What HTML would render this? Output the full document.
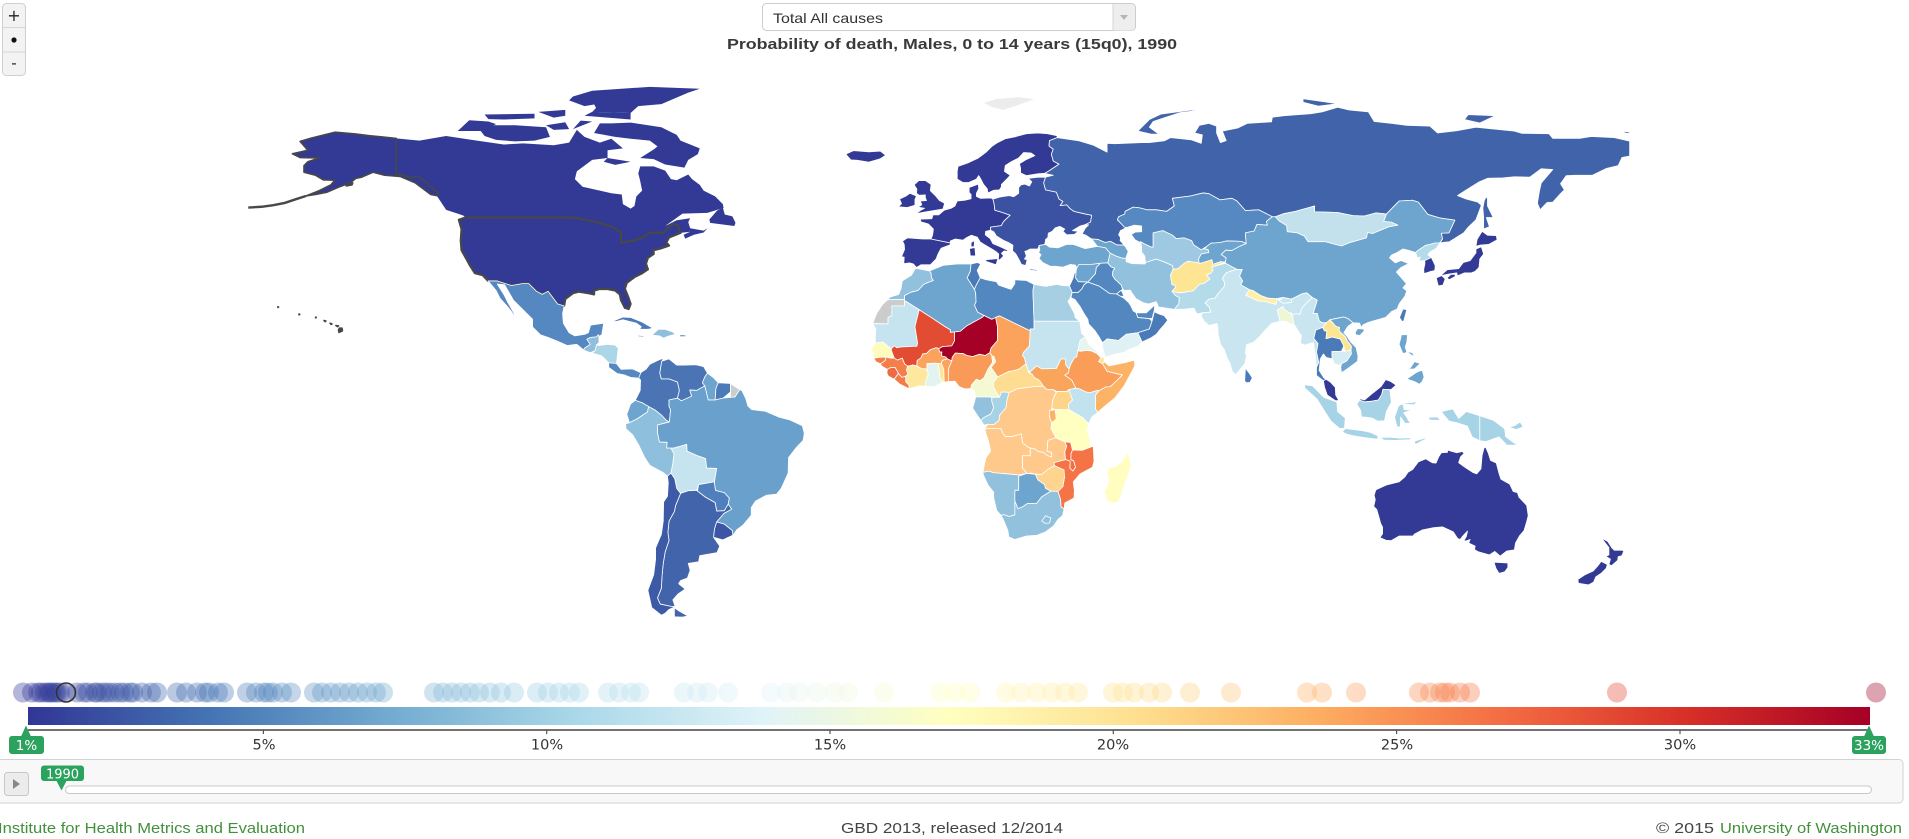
<!DOCTYPE html>
<html><head><meta charset="utf-8"><style>
html,body{margin:0;padding:0;background:#fff;}
svg{display:block;}
.m polygon{stroke:#fff;stroke-width:0.8;vector-effect:non-scaling-stroke;stroke-linejoin:round;}
.m polygon.n{stroke:none;}
.m polygon.us{stroke:#484848;stroke-width:2.2;}
.m polygon.ak{stroke:#484848;stroke-width:1.6;}
.t{font-family:"DejaVu Sans","Liberation Sans",sans-serif;}
.l{font-family:"Liberation Sans","DejaVu Sans",sans-serif;}
</style></head><body>
<svg width="1909" height="839" viewBox="0 0 1909 839" xmlns="http://www.w3.org/2000/svg">
<defs>
<linearGradient id="cb" gradientUnits="userSpaceOnUse" x1="28" y1="0" x2="1870" y2="0">
<stop offset="0" stop-color="#313695"/><stop offset="0.1" stop-color="#4575b4"/><stop offset="0.2" stop-color="#74add1"/><stop offset="0.3" stop-color="#abd9e9"/><stop offset="0.4" stop-color="#e0f3f8"/><stop offset="0.5" stop-color="#ffffbf"/><stop offset="0.6" stop-color="#fee090"/><stop offset="0.7" stop-color="#fdae61"/><stop offset="0.8" stop-color="#f46d43"/><stop offset="0.9" stop-color="#d73027"/><stop offset="1" stop-color="#a50026"/>
</linearGradient>
</defs>
<rect width="1909" height="839" fill="#fff"/>

<!-- zoom buttons -->
<rect x="2.5" y="3.5" width="23" height="72" rx="4" fill="#f3f3f3" stroke="#cfcfcf"/>
<line x1="3" y1="27.5" x2="25" y2="27.5" stroke="#d6d6d6"/>
<line x1="3" y1="52" x2="25" y2="52" stroke="#d6d6d6"/>
<text x="14" y="21" class="t" font-size="16" fill="#222" text-anchor="middle">+</text>
<circle cx="14" cy="40" r="2.6" fill="#111"/>
<text x="14" y="68" class="t" font-size="15" fill="#222" text-anchor="middle">-</text>

<!-- dropdown -->
<rect x="762.5" y="3.5" width="373" height="27" rx="4" fill="#fff" stroke="#cccccc"/>
<path d="M1113,4 H1131 a4,4 0 0 1 4,4 V26.5 a4,4 0 0 1 -4,4 H1113 Z" fill="#eeeeee"/>
<line x1="1113" y1="4" x2="1113" y2="30.5" stroke="#d6d6d6"/>
<polygon points="1120,15 1128,15 1124,20" fill="#b5b5b5"/>
<text x="773" y="23" class="l" font-size="14" fill="#333" textLength="110" lengthAdjust="spacingAndGlyphs">Total All causes</text>

<!-- title -->
<text x="727" y="49" class="l" font-size="15" font-weight="bold" fill="#3a3a3a" textLength="450" lengthAdjust="spacingAndGlyphs">Probability of death, Males, 0 to 14 years (15q0), 1990</text>

<!-- MAP -->
<g class="m" transform="translate(938,405.8) scale(3.8425,-3.8425)">
<!-- Svalbard -->
<polygon class="n" fill="#ececec" points="12,78.8 15,79.8 21,80.3 25,79.8 21,78.3 17,77 14,77.8"/>
<!-- Canada -->
<polygon class="n" fill="#323a96" points="-141,69.6 -135,69 -128,70.2 -120,69 -113,68 -108,68.3 -100,67.8 -96,68.5 -94,71.8 -92,70 -88,68.5 -85,69.5 -82,67 -86,66.5 -86,64.5 -90,64 -94,61 -94.5,59 -92.5,57 -88,56 -85,55.3 -82.3,55 -82,52.5 -80,51.3 -79,52 -78.5,54.5 -77,56 -77.5,58.5 -78,60.5 -77.5,62.3 -74,62.3 -71,61.2 -69.5,59 -68,58.7 -65,60.2 -64,59 -62,57.5 -61,56 -58,54.5 -56,52.5 -55.8,51.5 -60,50.2 -66.5,50 -71,46.8 -68,48.3 -64.5,48.8 -65,47.8 -64.5,46.2 -61,45.6 -60,46.2 -61,45.1 -63.5,44.5 -65.8,43.5 -66.2,44.5 -64.5,45.3 -67,45 -67.8,47 -69.2,47.4 -70,46.5 -71.5,45 -75,45 -76.5,44 -79,43 -82.5,42.5 -82.5,45 -84.5,46.5 -89.5,48 -95,49 -123,49 -123.5,49.5 -125,50 -128,51 -130,54 -130.5,54.7 -130,55.5 -131.5,56.5 -133.5,58.5 -135.5,59.8 -137,59.3 -139,60 -141,60.3"/>
<polygon class="n" fill="#323a96" points="-80,73.7 -72,72.5 -68,70.5 -67,69 -62,67 -62.5,65.5 -65,64 -66,62 -71,62.8 -74,64.2 -77.5,64.5 -74,66.7 -73,67.5 -75,69 -80,69.5 -84,70 -89.5,71 -88,73.5 -85,73.5"/>
<polygon class="n" fill="#323a96" points="-119,71.5 -117,73 -110,73 -102,72.5 -101,70 -105,69 -110,68.8 -115,69.2 -118,70.2"/>
<polygon class="n" fill="#323a96" points="-90,76.5 -80,76.2 -78,78 -72,78.5 -65,81.5 -62,82.5 -75,83 -90,82 -95,80.5 -90,79.5 -89,77.5"/>
<polygon class="n" fill="#323a96" points="-92,75.5 -80,74.5 -80,76.2 -90,76.5"/>
<polygon class="n" fill="#323a96" points="-125,71.5 -122,74.3 -117,74 -115,73.3 -119,71.5"/>
<polygon class="n" fill="#323a96" points="-118,75.8 -105,76 -105,74.8 -113,74.5 -117,74.6"/>
<polygon class="n" fill="#323a96" points="-102,73 -97,73.8 -96,72 -100,71.8"/>
<polygon class="n" fill="#323a96" points="-86,64.5 -80,63.5 -84,62.7 -87,63.5"/>
<polygon class="n" fill="#323a96" points="-95,80.5 -86,81 -86,79 -92,78 -96,79.5"/>
<polygon class="n" fill="#323a96" points="-95,72 -90,74 -93,74.2"/>
<polygon class="n" fill="#323a96" points="-104,76.5 -97,77 -97,75.5 -100,75"/>
<polygon class="n" fill="#323a96" points="-59.3,47.6 -53,46.8 -52.7,47.6 -53.5,49.3 -55.5,49.8 -56,51.6 -57.5,50.8 -59.5,48.5"/>
<!-- Alaska -->
<polygon class="ak" fill="#323a96" points="-141,69.6 -141,60.3 -139,60 -137,59.3 -135.5,59.8 -133.5,58.5 -131.5,56.5 -130,55.5 -130.5,54.7 -132,55 -134,56.5 -136,58 -140,59.7 -144,60 -147,60.8 -150,59.5 -151.5,59.2 -153,58 -156,56.9 -159,55.6 -162,55 -164.5,54.6 -161,56 -158,57.5 -157,58.7 -160,58.8 -162,60 -165,60.8 -165,62.5 -164,63.5 -161,64.5 -166,64.6 -168,65.6 -164,66.5 -166,68.8 -163,69.7 -157,71.2 -152,70.8 -148,70.3"/>
<polygon class="ak" fill="#323a96" points="-154,57.2 -152.5,57.5 -152.3,58 -153.8,57.9"/>
<polyline points="-164.5,54.6 -167,53.8 -170,52.8 -173,52.2 -176,51.8 -179.5,51.6" fill="none" stroke="#484848" stroke-width="2.4" vector-effect="non-scaling-stroke"/>
<!-- Hawaii -->
<polygon class="ak" fill="#484848" points="-155.9,19.1 -155,19.5 -155.1,20.2 -155.8,20.2 -156,19.7"/>
<polygon class="ak" fill="#484848" points="-156.7,20.9 -156,20.8 -156.3,20.6"/>
<polygon class="ak" fill="#484848" points="-158.2,21.5 -157.7,21.3 -158,21.2"/>
<polygon class="ak" fill="#484848" points="-159.8,22.2 -159.3,22.1 -159.5,21.9"/>
<polygon class="ak" fill="#484848" points="-161.9,23.1 -161.8,23 -162,22.9"/>
<polygon class="ak" fill="#484848" points="-166.3,23.9 -166.1,23.8 -166.3,23.7"/>
<polygon class="ak" fill="#484848" points="-171.8,25.8 -171.6,25.7 -171.8,25.6"/>
<!-- USA -->
<polygon class="us" fill="#323a96" points="-123,49 -95,49 -89.5,48 -84.5,46.5 -82.5,45 -82.5,42.5 -79,43 -76.5,44 -75,45 -71.5,45 -70,46.5 -69.2,47.4 -67.8,47 -67,45 -70,43.8 -70.7,42.5 -70,41.7 -72,41 -74,40.5 -74,39.5 -75.5,38.5 -76,37 -75.5,35.5 -77,34.5 -79,33.5 -81,32 -81.5,30.5 -80.5,28 -80,26.5 -80.5,25.2 -81.5,25.5 -82.5,27.5 -82.8,29 -84,30 -86,30.4 -88,30.4 -89.5,30 -89.5,29 -91,29.3 -93.5,29.7 -95,29.3 -97,27.8 -97.3,26 -99,26.5 -100.5,28.5 -101.5,29.8 -103,29 -104.5,29.8 -106.5,31.8 -108.2,31.8 -111,31.3 -114.8,32.5 -117.1,32.5 -118.5,34 -120.5,34.5 -121.8,36.5 -122.5,37.8 -124,40.5 -124.2,43 -124,46 -124.7,48.4"/>
<!-- Mexico & Central America & Caribbean -->
<polygon fill="#5587c1" points="-117.1,32.5 -114.8,32.5 -111,31.3 -108.2,31.8 -106.5,31.8 -104.5,29.8 -103,29 -101.5,29.8 -100.5,28.5 -99,26.5 -97.3,26 -97.7,24 -97.5,21.5 -96,19 -94.5,18.2 -92,18.6 -91,19 -90.4,21 -87,21.5 -87.5,18.5 -88.3,18 -89.1,17.9 -90.4,17.8 -91.4,17.3 -90.5,16 -92,15 -92.2,14.5 -94,16 -96.5,15.7 -99,16.8 -101.5,17.8 -103.5,18.5 -105.5,20.5 -105.5,22.5 -107,24 -109,26 -110.5,27.5 -112.8,31.5 -114.7,31.7 -113,29 -112,27 -110.3,24 -110,23 -111,24.5 -112.2,26 -114,28 -115,30 -116.5,31.8"/>
<polygon fill="#8fbfdc" points="-92.2,14.5 -92,15 -90.5,16 -91.4,17.3 -90.4,17.8 -89.1,17.9 -88.3,18.5 -88.2,16.5 -88.9,15.8 -89.2,14.4 -90.5,13.8"/>
<polygon fill="#abd6e8" points="-88.9,15.8 -88.2,15.7 -86,16 -84,15.8 -83.2,15 -83.5,12.5 -83.7,11 -85.7,11.2 -87.5,13 -89.3,13.5 -90.1,13.7 -89.2,14.4"/>
<polygon fill="#5587c1" points="-83.7,11 -82.5,9.5 -79.5,9.6 -77.5,8.7 -77.2,7.9 -78,7.2 -80,7.4 -81.5,8 -83.5,8.4 -85.7,10 -85.7,11.2"/>
<polygon fill="#4a7bb8" points="-84.9,21.9 -82,23.1 -80,23 -77,21.8 -75.6,21 -74.2,20.2 -75.5,19.9 -77.7,19.9 -77.2,20.6 -78.5,21.5 -80.5,22 -82,22.4 -83.5,22 -85,21.8"/>
<polygon fill="#8fbfdc" points="-74.4,18.4 -72.8,19.9 -71,19.9 -69,19.2 -68.4,18.6 -70,18.2 -71.4,17.6 -72.5,18.2"/>
<polygon fill="#6ea5cf" points="-78.3,18.4 -76.3,18.2 -76.8,17.9 -77.9,18"/>
<polygon fill="#4a7bb8" points="-67.2,18.5 -65.6,18.4 -65.7,18 -67.2,18"/>
<!-- South America -->
<polygon fill="#4a74b4" points="-77.3,8.7 -76,9.5 -75,10.8 -73,11.8 -71.5,12.4 -72,11 -72.4,8.5 -72,7 -70,7 -67.8,6.2 -67.3,4 -67.8,2 -70,1.5 -70,-0.2 -69.6,-1 -69.9,-4.2 -70.7,-3.8 -72,-2.4 -73.5,-1.2 -75.3,-0.2 -77,0.8 -78.8,1.4 -77.5,4 -77.4,6.7 -77.9,7.2"/>
<polygon fill="#4a74b4" points="-72,11 -71.9,11.6 -70,12.2 -68,10.6 -66,10.6 -63,10.7 -61,10.2 -60,8.5 -60.7,7.5 -61.3,6 -60.7,5.2 -62.8,4 -64.6,4.1 -64.1,2.5 -66.8,1.3 -67.8,2 -67.3,4 -67.8,6.2 -70,7 -72,7 -72.4,8.5"/>
<polygon fill="#6ea5cf" points="-60,8.5 -58.5,7.4 -57.2,6 -57.8,4.5 -58,1.5 -59.8,1.5 -60.7,5.2 -61.3,6 -60.7,7.5"/>
<polygon fill="#4a7bb8" points="-57.2,6 -54,5.8 -54,3.6 -55.9,2 -58,1.5 -57.8,4.5"/>
<polygon fill="#cccccc" points="-54,5.8 -51.6,4.2 -52.8,2.3 -54,2.2 -54,3.6"/>
<polygon fill="#6ea5cf" points="-78.8,1.4 -77,0.8 -75.3,-0.2 -75.6,-1.6 -78.3,-3.4 -80.3,-4.4 -81,-2.2 -80,0.5"/>
<polygon fill="#8ebfdc" points="-81.3,-4.7 -80.3,-4.4 -78.3,-3.4 -75.6,-1.6 -75.3,-0.2 -73.5,-1.2 -72,-2.4 -70.7,-3.8 -69.9,-4.2 -73,-5 -73,-7 -72.5,-9.4 -70.5,-9.5 -70.6,-11 -69.5,-11 -68.7,-12.5 -69,-15 -69.5,-17.5 -70.4,-18.3 -71.5,-17.4 -75,-15.5 -76.3,-13.5 -78,-10 -79.5,-7.5 -81.2,-6"/>
<polygon fill="#c6e4ef" points="-69.5,-11 -68.7,-12.5 -69,-15 -69.5,-17.5 -68.5,-19 -68,-21.5 -67,-22.8 -65,-22.1 -62.8,-22 -62.3,-20.5 -58.2,-19.8 -57.6,-16.3 -60.2,-16.2 -60.5,-13.7 -62.8,-12.9 -65.3,-11.8 -65.4,-10 -67,-10.5 -68.8,-11"/>
<polygon fill="#4f7fbd" points="-62.3,-20.5 -62.6,-22.2 -60.5,-23.8 -58,-25.2 -57.6,-27.4 -55.6,-27.3 -54.6,-25.6 -54.3,-24 -55.6,-22.6 -57.9,-22 -58.2,-19.8"/>
<polygon fill="#6aa0cc" points="-60.7,5.2 -59.8,1.5 -58,1.5 -56,2 -54,2.2 -52.8,2.3 -51.6,4.2 -51,3.9 -50,1.8 -49.5,0 -48.5,-1 -45,-1.4 -41.5,-2.9 -38.5,-3.7 -35.3,-5.2 -34.8,-7.2 -35.1,-9 -37,-11 -38.9,-13.5 -39,-17.5 -40.8,-21.5 -42,-23 -44.7,-23.3 -47.5,-24.8 -48.6,-26.5 -48.6,-28.5 -50.7,-31 -52.3,-32.2 -53.4,-33.7 -53.5,-32.5 -55.6,-30.8 -57.6,-30.2 -55.7,-28 -53.7,-26.9 -54.6,-25.6 -54.3,-24 -55.6,-22.6 -57.9,-22 -58.2,-19.8 -57.6,-16.3 -60.2,-16.2 -60.5,-13.7 -62.8,-12.9 -65.3,-11.8 -65.4,-10 -67,-10.5 -68.8,-11 -70.6,-11 -70.5,-9.5 -72.5,-9.4 -73,-7 -73,-5 -69.9,-4.2 -69.6,-1 -70,-0.2 -70,1.5 -67.8,2 -66.8,1.3 -64.1,2.5 -64.6,4.1 -62.8,4"/>
<polygon fill="#3c55a5" points="-58.4,-34.2 -56,-34.9 -53.4,-33.7 -53.5,-32.5 -55.6,-30.8 -57.6,-30.2 -58.1,-31.8 -58.3,-33"/>
<polygon fill="#4264ab" points="-65,-22.1 -67,-22.8 -68.3,-26 -68.6,-27.5 -70,-30 -70.3,-33 -70,-35 -71,-38 -71.5,-41 -71.8,-44 -72,-47.5 -73,-50 -72.3,-51.6 -69.5,-52.2 -68.4,-52.3 -69,-50.5 -67.7,-49 -65.8,-47.7 -67.5,-46.3 -67,-45.5 -65.2,-44.8 -64.5,-42.8 -65,-41 -62.3,-40.6 -62,-39 -57.5,-38.2 -56.8,-36.5 -57.5,-35.5 -58.4,-34.2 -58.3,-33 -58.1,-31.8 -57.6,-30.2 -55.7,-28 -53.7,-26.9 -54.6,-25.6 -55.6,-27.3 -57.6,-27.4 -58,-25.2 -60.5,-23.8 -62.6,-22.2 -62.8,-22"/>
<polygon fill="#4264ab" points="-68.6,-52.6 -68.6,-54.9 -66.5,-55 -65.1,-54.7 -67.2,-53.5"/>
<polygon fill="#3d5aa6" points="-70.4,-18.3 -69.5,-17.5 -68.5,-19 -68,-21.5 -67,-22.8 -68.3,-26 -68.6,-27.5 -70,-30 -70.3,-33 -70,-35 -71,-38 -71.5,-41 -71.8,-44 -72,-47.5 -73,-50 -72.3,-51.6 -69.5,-52.2 -68.4,-52.3 -70,-53 -71,-54 -72,-54.5 -74.5,-52.5 -75.5,-48 -74,-44 -73.5,-40 -73.5,-37 -72,-33.5 -71.5,-30 -71.4,-25 -70.4,-23.5 -70.2,-20"/>
<!-- Europe -->
<polygon fill="#323a96" points="-24,65.5 -22,66.4 -18,66.1 -15,66.3 -13.6,65.2 -15,64.3 -18,63.4 -21,63.9 -22.7,64"/>
<polygon fill="#323a96" points="-5.7,50 -3,50.5 1.3,51.2 1.7,52.7 0.3,53.5 -0.5,54.5 -1.6,55.6 -2,56 -1.8,57.6 -3.2,58.6 -5,58.6 -6.2,57.5 -5.5,56.4 -5.6,55.3 -4.9,54.8 -3.3,54.9 -3.3,54.2 -3,53.4 -4.6,53.3 -4.2,52.3 -5.2,51.7 -3.5,51.4 -4.5,50.9"/>
<polygon fill="#323a96" points="-6,52.2 -6,53.7 -5.6,54.6 -7.3,55.3 -8.5,54.5 -10,53.8 -9.5,52.6 -10.3,51.8 -8,51.6"/>
<polygon fill="#323a96" points="-9,43 -8,43.7 -4,43.4 -1.8,43.4 3.2,42.4 3.2,41.9 0.8,41 0,39.5 -0.5,38.2 -2,36.7 -4.4,36.7 -5.6,36 -6.4,36.9 -7.4,37.2 -8.9,37 -8.8,38.7 -9.5,38.8 -8.7,40.7 -8.8,42 -9.3,43"/>
<polygon fill="#323a96" points="-1.8,43.4 -1.4,44.5 -1.2,46 -2.5,47.3 -4.5,47.9 -4.6,48.6 -1.6,48.7 -1.3,49.7 0.2,49.7 1.6,50.9 3.4,51.4 4.4,52 5,53.3 7,53.5 8.6,53.9 8.6,55 8.1,55.5 8.1,56.8 10.5,57.7 10.6,56.5 10,55.3 10,54.5 11,54 13.8,54.1 14.3,53.8 14.6,52.6 14.8,50.9 16.5,50.4 18.8,49.6 17.2,48.1 16.9,47.7 16.5,46.9 13.7,46.5 13.7,45.7 12.4,45.4 12.3,44.5 13.6,43.5 14.3,42.2 16,41.5 17.9,40.6 18.5,40.1 17.2,40.3 16.5,39.7 17.1,39 16.1,38 15.7,38 15.8,39.5 15,40.2 14,40.8 12.5,41.7 11,42.6 10.2,43.9 8.7,44.4 7.5,43.8 6.5,43.1 4.5,43.4 3.2,42.9 3.2,42.4"/>
<polygon fill="#323a96" points="12.4,38 15.6,38.3 15.1,36.7 12.5,37.6"/>
<polygon fill="#323a96" points="8.4,39 9.8,39 9.6,41.2 8.2,40.9"/>
<polygon fill="#323a96" points="8.6,41.4 9.4,41.4 9.5,43 8.6,42.5"/>
<polygon fill="#323a96" points="5,59 5,61 5.2,62.3 8,63.3 10.5,64.5 12.5,66 14,67.5 15.5,68.5 17.5,69.5 20,70 23,70.8 26,71 28.5,70.8 31,70.3 31,69.8 29,69 28.9,67.6 30,66.8 29.5,65.5 30,63.7 31.5,62.9 29,61.2 27.8,60.5 26,60.4 23,59.9 21.5,60.6 21.5,61.8 21.2,63 22.8,64 25.2,65.1 24.2,65.8 22.3,65.9 21,64.5 19,63.5 17.5,62.5 17.3,61 18.8,60 18.2,59.3 16.5,57.6 16.5,57 16,56.2 14.5,56.1 13,55.4 12.8,56.5 11.8,57.7 11.2,58.9 10.6,59.9 10,59 8,58.1 6.5,58.1 5.5,58.7"/>
<polygon fill="#3b52a2" points="14.3,53.8 16,54.3 18.5,54.7 19.7,54.4 21,55.3 21,56.8 21.6,57.5 22.6,57.7 23.8,57.2 24.4,58.3 23.5,59.2 26,59.5 28,59.5 27.5,58 28,56.2 30.8,55.6 31.5,53.8 32.5,53.2 31.8,52.1 33.5,52.3 34.4,51.3 35.4,50.6 38,50 40,49.6 39.7,47.8 38.2,47.1 37,46.8 35,45.6 36.5,45.4 35.5,44.6 33.5,44.5 32.5,45.4 33,46 31.7,46.7 30.5,46.3 29.7,45.4 28.7,44.9 28.6,43.8 28,43.3 27.8,42 26.3,41.7 26,40.8 24,40.8 23,40.3 22.6,40.2 23,39 22.5,38.2 23.2,38 22.8,36.5 21.7,36.8 21,38.2 20.2,39.6 19.4,40.3 19.5,41.8 18.5,42.4 17,43.1 15.2,44.2 14.5,45.3 13.7,45.7 13.7,46.5 16.5,46.9 16.9,47.7 17.2,48.1 18.8,49.6 16.5,50.4 14.8,50.9 14.6,52.6"/>
<polygon fill="#3b52a2" points="23.5,35.3 26.2,35.1 25.8,35.4 24,35.6"/>
<!-- Russia -->
<polygon fill="#4063aa" points="31,69.8 36.5,69 40.5,67.8 44,66 44,68.3 46,68.2 53,68.5 55,68.5 59,69 60.5,69.8 66,69.2 68.5,68.3 68.8,70.5 66.8,71 68,73 70.5,73.5 72.5,72.8 72.5,71 73.5,68.5 75,69 74,71.5 78,72.3 80.5,73.5 86.8,73.9 87,75.1 90,75.5 97,76 100,76.5 104,77.7 107,77 112,76.5 113.5,74 118,73.5 122,73 128,72.8 130,71 135,71.6 140,72.5 150,71.5 152,70.9 159,70.8 160,69.6 167,69.6 170,70.1 176,69.8 180,68.9 180,65 178,64.6 177,62.5 174,61.8 170.3,60 166,60 163.5,59.9 162,57.8 163,56.2 161.8,55 160,53 158.5,52.9 156.7,51 156,52.7 156.5,55.8 157,58 160,61.5 157,61.7 154,59.5 150,59.6 147,59.3 143,59.2 140.7,58.2 137.2,56 135.2,54.7 137.2,53.9 140.5,53 141.4,52.2 140.6,50 140,48.4 138,46.5 136.8,45 133.1,42.7 131.2,42.5 130.6,42.4 131.3,43.4 131,44.9 133,45 134.5,48.3 130.5,48.9 127.5,49.8 125,53 123.5,53.5 120,53.3 116.7,49.9 114,50.2 111,49.4 108,49.5 104,50.3 98,50.5 98,52 93,50.6 90,50 87.8,49.2 87,49.2 83.5,51 80,50.8 77.8,53.3 76.5,54 73.4,53.6 70.5,55.2 69,55.4 65.7,54.6 61,54 61.5,52 59.5,50.6 56.8,51 54.5,51 52.5,51.5 50.8,51.7 48.7,50.6 48.6,49.9 47,49.2 46.7,48.4 47.6,47.5 48.5,46.5 49.1,46.4 47.5,45.6 47,44.5 47.5,43.8 47.4,43 48.5,41.8 46.5,41.9 44.9,42.8 43.5,42.5 41.6,43.3 40,43.4 38.5,44.4 37.5,44.7 38.3,46.2 39.2,47.1 38.2,47.1 39.7,47.8 40,49.6 38,50 35.4,50.6 34.4,51.3 33.5,52.3 31.8,52.1 32.5,53.2 31.5,53.8 30.8,55.6 28,56.2 27.5,58 28,59.5 30,60 27.8,60.5 29,61.2 31.5,62.9 30,63.7 29.5,65.5 30,66.8 28.9,67.6 29,69"/>
<polygon fill="#4063aa" points="52,71.5 55.5,70.7 57.5,70.7 55,72.5 56,74 59,75 63,76.3 68,76.9 66,77 58,75.9 55,74.5 53.5,73"/>
<polygon fill="#4063aa" points="95,79.9 100,79.2 104,78.6 99,78 95,79"/>
<polygon fill="#4063aa" points="138,75.8 145,75.5 141,73.6 137,74.5"/>
<polygon fill="#4063aa" points="178,71.5 180,71.2 180,70.9 179,70.9"/>
<polygon fill="#4063aa" points="142,46 143.5,46.6 142.7,49 144.5,49 143,52 143,54 142.7,54.4 142.2,53.5 141.8,51.5 142,49"/>
<!-- Caucasus, Turkey, Middle East -->
<polygon fill="#6ea5cf" points="40,43.4 41.6,43.3 43.5,42.5 44.9,42.8 46.5,41.9 48.5,41.8 49.5,40.2 48.9,38.4 48,38.4 46.5,38.9 44.8,39.7 43.6,41.1 41.5,41.5"/>
<polygon fill="#6ea5cf" points="26.3,41.7 28,42 29,41.3 31.2,41.1 33.5,42 35.2,42 38.3,40.9 41.5,41.5 43.6,41.1 44.8,39.7 44.2,37.2 42.3,37.1 40,36.8 38,36.8 36.7,36.8 36.1,35.8 35.8,36.6 34.5,36.8 32.5,36.1 30.5,36.3 29.3,36.3 27.4,37.2 26.3,38.3 26.8,39.3 26.2,39.9 26.5,40.6"/>
<polygon fill="#6ea5cf" points="35.9,35 36.1,35.8 36.7,36.8 38,36.8 40,36.8 42.3,37.1 41.2,36 41,34.4 39,32.2 36.5,32.3 35.8,33.3"/>
<polygon fill="#4a7bb8" points="34.2,31.2 34.9,29.5 36.5,29.5 37.5,30.5 38,31.5 39,32.2 36.5,32.3 35.8,33.3 35.9,35 35.5,34.5 35.1,33.1 34.5,31.8"/>
<polygon fill="#5387c0" points="42.3,37.1 44.2,37.2 45,36.2 46,35.8 45.5,35 45.4,34 46,33 47.7,31.4 48,30.5 48,29.9 47.7,30.1 46.5,29.1 44.7,29.2 42,31.1 39,32.2 41,34.4 41.2,36"/>
<polygon fill="#4a7bb8" points="46.5,29.1 47.7,30.1 48.4,28.5 47.5,28.5"/>
<polygon fill="#5387c0" points="34.9,29.5 36.5,29.5 37.5,30.5 38,31.5 39,32.2 42,31.1 44.7,29.2 46.5,29.1 47.5,28.5 48.4,28 49.6,26.9 50.2,26 50.8,24.7 51.6,24.2 52,23 55,22.7 55.7,22 55,20 52,19 49,18.6 47,17 44,17.4 43.2,16.7 42.8,16.4 42,17.8 40.8,19.6 39.2,21.3 39,22.5 38,24 37,25.8 35.6,27.7 34.6,28.1"/>
<polygon fill="#5387c0" points="51.6,24.2 54.2,24.2 55.5,25.4 56.4,26.2 56.3,24.9 55.7,22.7 55,22.7 52,23"/>
<polygon fill="#4a7bb8" points="55.7,22 56.3,24.5 56.8,24.2 57.8,23.8 58.8,23.5 59.8,22.3 58.9,21.1 57.8,19.9 56.8,18.6 55.3,17.6 53.1,16.6 52,19 55,20"/>
<polygon fill="#dff1f4" points="43.2,16.7 44,17.4 47,17 49,18.6 52,19 53.1,16.6 52.2,15.6 49.5,14.6 48.7,14 45.6,13.3 43.5,12.6 42.8,15.3 42.8,16.4"/>
<polygon fill="#91c1dd" points="44.2,37.2 44.8,39.7 46.5,38.9 48,38.4 48.9,38.4 49,37.5 50.5,37 53.9,36.9 54,37.3 56.8,38.2 59,37.4 61,36.5 61.2,35.6 60.5,34 60.9,31.5 61.7,31.4 61.8,30.8 60.9,29.8 61.8,28.7 62.8,28.2 62.7,26.6 61.5,25.1 59.5,25.4 57.4,25.7 56.8,27.1 54.8,26.5 53.5,26.8 51.5,27.9 50,30.1 48.5,30 48,30.5 47.7,31.4 46,33 45.4,34 45.5,35 46,35.8 45,36.2"/>
<!-- Central Asia -->
<polygon fill="#5689c1" points="46.7,48.4 47,49.2 48.6,49.9 48.7,50.6 50.8,51.7 52.5,51.5 54.5,51 56.8,51 59.5,50.6 61.5,52 61,54 65.7,54.6 69,55.4 70.5,55.2 73.4,53.6 76.5,54 77.8,53.3 80,50.8 83.5,51 87,49.2 85.5,48 85.7,47 83,47.2 82.3,45.5 80,45 80.2,42.2 79,42.8 75,42.9 73.5,42.5 71,42.3 70,41.5 68.5,40.6 66.5,41.9 66,43 64,43.7 62,43.5 61,44.4 58.5,45.6 56,45 56,41.3 55.5,41.3 54,42 52.7,42.7 53,42.3 51.3,43.2 50.3,44.6 51.3,45.2 53,45.3 53,46.8 51,47 49.1,46.4 48.5,46.5 47.6,47.5"/>
<polygon fill="#9fc9e2" points="52.7,42.7 54,42 55.5,41.3 56,41.3 56,45 58.5,45.6 61,44.4 62,43.5 64,43.7 66,43 66.5,41.9 68.5,40.6 70,41.5 69.3,40.8 70.3,40.7 70.5,39.9 68.5,39.5 67.8,38.2 68,37 67.5,37.3 66.5,37.4 65,37.6 64,37 62.3,35.6 61.2,35.6 61,36.5 59,37.4 56.8,38.2 54,37.3 53.8,39 53,40 53,41.5"/>
<polygon fill="#6ea5cf" points="70,41.5 71,42.3 73.5,42.5 75,42.9 79,42.8 80.2,42.2 78.5,41.5 76.5,40.4 74.9,40.5 73.7,39.4 75,38.5 74.8,37.4 73.5,37.5 71.5,36.8 71.3,38 70,37.6 68,37 67.8,38.2 68.5,39.5 70.5,39.9 70.3,40.7 69.3,40.8"/>
<polygon fill="#fee594" points="61.2,35.6 62.3,35.6 64,37 65,37.6 66.5,37.4 67.5,37.3 68,37 70,37.6 71.3,38 71.5,36.8 73.5,37.5 74.8,37.4 71.2,36.1 71.6,35.3 71,34.5 69.9,34 70.8,33 69.3,31.9 68,31.6 66.5,30 66.3,29.9 64,29.5 62.5,29.4 60.9,29.8 61.8,30.8 61.7,31.4 60.9,31.5 60.5,34"/>
<polygon fill="#b3dbea" points="60.9,29.8 62.5,29.4 64,29.5 66.3,29.9 66.5,30 68,31.6 69.3,31.9 70.8,33 69.9,34 71,34.5 71.6,35.3 71.2,36.1 74.8,37.1 75.8,36.6 77.8,35.5 76,35 75,34.6 74,33.2 74.6,32 74.5,31 73.5,29.9 72,28 70.6,27.8 69.5,26.8 70.6,25.7 71,24.4 68.8,24.2 67.4,23.9 66.6,25.4 64.5,25.2 61.5,25.1 62.7,26.6 62.8,28.2 61.8,28.7"/>
<polygon fill="#c9e6f0" points="77.8,35.5 79.2,35.5 78.5,33.8 79.3,32.5 78.8,31.5 81.1,30.2 80.1,28.8 83.3,27.3 84.7,27.2 88,26.4 88.1,27.9 88.9,27.3 89.8,26.7 92,26.9 92,27.8 94.8,29.2 96,29.4 97.4,28.2 96.6,27.4 95.2,26 94.6,25.2 94.2,23.8 93.3,24 93,22 92.6,21.3 92.2,23.7 91.9,24.2 91.5,24.1 90,25.2 89.8,25.9 88.3,24.9 88.6,23.8 89,22 88,21.7 86.9,21.5 85,19.5 83.9,18.2 82.2,16.6 80.3,15.9 80,13.8 80.3,13 79.9,11.1 79.3,10.3 77.5,8.1 76.6,8.9 76,11 75.3,12.3 74.5,14.6 73.5,16 72.9,18.6 72.8,20.5 72.6,21.4 70.5,20.9 69.2,22.1 68.5,23.3 68.8,24.2 71,24.4 70.6,25.7 69.5,26.8 70.6,27.8 72,28 73.5,29.9 74.5,31 74.6,32 74,33.2 75,34.6 76,35"/>
<polygon fill="#fff0a8" points="80.1,28.8 81.1,30.2 82,30 84,28.7 86,28 88.1,27.9 88,26.4 84.7,27.2 83.3,27.3"/>
<polygon fill="#c9e6f0" points="88.9,27.3 89.8,28.2 92,27.8 92,26.9 89.8,26.7"/>
<polygon fill="#eef6d6" points="88.3,24.9 89.8,25.9 90,25.2 91.5,24.1 91.9,24.2 92.2,23.7 92.6,21.3 92,21.2 90.5,22 89,22 88.6,23.8"/>
<polygon fill="#4a7bb8" points="79.8,6.5 80,9.8 81,8.5 81.8,7.3 81.2,6.1 80.2,6"/>
<!-- East Asia -->
<polygon fill="#c2e1ed" points="87.8,49.2 90,50 93,50.6 98,52 98,50.5 104,50.3 108,49.5 111,49.4 114,50.2 116.7,49.9 116,48 118,47.8 119.7,47 117.4,46.6 113,44.8 111.8,45.1 111.5,43.7 107,42.4 105,41.6 100.8,42.7 96.3,42.7 95.3,44.2 93.5,45 90.9,45.3 90.7,46.9 88.8,48.1"/>
<polygon fill="#6ea5cf" points="73.7,39.4 74.9,40.5 76.5,40.4 78.5,41.5 80.2,42.2 80,45 82.3,45.5 83,47.2 85.7,47 85.5,48 87,49.2 87.8,49.2 88.8,48.1 90.7,46.9 90.9,45.3 93.5,45 95.3,44.2 96.3,42.7 100.8,42.7 105,41.6 107,42.4 111.5,43.7 111.8,45.1 113,44.8 117.4,46.6 119.7,47 118,47.8 116,48 116.7,49.9 120,53.3 123.5,53.5 125,53 127.5,49.8 130.5,48.9 134.5,48.3 133,45 131,44.9 131.3,43.4 130.6,42.4 129.5,42.4 128,42 126.8,41.7 125,40.5 124.3,39.9 122.3,40.5 121,40.8 119.5,39.9 118,39.2 117.5,38.5 119,37.2 120.5,37.8 122.5,37 120.5,36 119.3,34.8 120.6,33.3 121.9,31.8 121,30.7 122,29.9 121.5,28.5 120,26.5 119.5,25.2 118,24.5 116.5,23 114,22.3 112,21.7 110.5,21 110.2,20.3 109.7,21.5 108,21.6 106.7,22.7 105.6,23.1 103.5,22.7 102,22.4 101.6,21.2 101.1,21.6 100,21.6 99.2,22.1 98.7,24 97.6,24 98.7,27.5 97.4,28.2 96,29.4 94.8,29.2 92,27.8 89.8,28.2 88.1,27.9 86,28 84,28.7 82,30 81.1,30.2 78.8,31.5 79.3,32.5 78.5,33.8 79.2,35.5 77.8,35.5 75.8,36.6 74.8,37.1 74.8,37.4 75,38.5"/>
<polygon fill="#6ea5cf" points="108.6,19.2 109.2,20.1 110.7,20 111,19.6 109.8,18.3 108.7,18.5"/>
<polygon fill="#4a7bb8" points="120.1,23 121,25.2 122,25 121.2,22 120.7,22"/>
<polygon fill="#b3dbea" points="124.3,39.9 125,40.5 126.8,41.7 128,42 129.5,42.4 130.6,42.4 129.7,41 128,40 127.5,39.3 128.4,38.6 126.7,37.8 125.2,37.7 125.5,38.7 124.7,38.5"/>
<polygon fill="#323a96" points="126.7,37.8 128.4,38.6 129.4,36.5 129.3,35.2 128,34.9 126.5,34.4 126.4,35.5 126.7,36.9"/>
<polygon fill="#323a96" points="130.9,34 132.5,35.4 135.5,35.7 136.7,37.3 138.5,37.8 140,39.8 140,40.8 141.4,41.4 142,39.5 141,38.2 140.8,36 139.8,35 138.8,34.6 137,34.6 135.2,33.8 135,34.6 133,34.3 131,33.9"/>
<polygon fill="#323a96" points="129.7,33.3 131.1,33.9 132,33 131.4,31.4 130.2,31.2 129.8,32.7"/>
<polygon fill="#323a96" points="132.5,33.3 133.5,34.2 134.7,34.2 134.5,33.6 133,32.8"/>
<polygon fill="#323a96" points="140,41.5 140.3,43.3 141.6,45.4 143,44.4 145.3,44.3 145.5,43.2 143.3,42 141,41.8"/>
<!-- SE Asia -->
<polygon fill="#c9e6f0" points="92.2,23.7 93.3,24 94.2,23.8 94.6,25.2 95.2,26 96.6,27.4 97.4,28.2 98.7,27.5 97.6,24 98.7,24 99.2,22.1 100,21.6 101.1,21.6 100.1,20.4 98.3,19.7 97.8,17.5 98.9,16.2 98.5,14 99.1,11.3 98.5,10 98.2,13 97.7,16.5 95.4,15.8 94.3,16.3 94.6,18.2 93.6,19.7 92.6,21.3"/>
<polygon fill="#4a7bb8" points="98.3,19.7 100.1,20.4 100.6,19.5 101.2,19.5 101,17.5 102.6,17.9 104.7,17.4 105.6,15.6 105,14.2 102.5,14.1 102.6,12.2 101,12.6 100.3,13.5 99.5,12.2 99.2,9.2 100.4,7.3 101,6.9 100.3,6.5 98.5,7.9 98.5,10 99.1,11.3 98.5,14 98.9,16.2 97.8,17.5"/>
<polygon fill="#fee594" points="100.1,20.4 101.1,21.6 102,22.4 102.6,21.8 103.5,20.7 104.5,20.4 104.4,19.5 106,18 106.6,16.8 107.6,15.5 107.5,14.4 105.9,14.2 105.6,15.6 104.7,17.4 102.6,17.9 101,17.5 101.2,19.5 100.6,19.5"/>
<polygon fill="#d5ecf3" points="102.5,14.1 105,14.2 105.9,14.2 107.5,14.4 107.6,13.5 106.4,11.7 105,10.9 104.4,10.5 103.1,11 102.6,12.2"/>
<polygon fill="#6ea5cf" points="102,22.4 103.5,22.7 105.6,23.1 106.7,22.7 108,21.6 106.7,20.7 105.6,19 106.5,18 107.5,16.5 108.8,15.2 109.3,13 109.2,11.6 108,10.7 106.5,9.6 105,8.6 104.8,10 105,10.9 106.4,11.7 107.6,13.5 107.5,14.4 107.6,15.5 106.6,16.8 106,18 104.4,19.5 104.5,20.4 103.5,20.7 102.6,21.8"/>
<polygon fill="#323a96" points="100.3,6.5 101,6.9 102.1,6.2 103.4,4.8 103.5,2.8 104.3,1.4 103.5,1.3 101.3,2.8 100.6,4.8"/>
<polygon fill="#323a96" points="109.6,1.9 111,1.5 113,3.2 115.3,5 116.5,6.8 117.7,6.4 119.2,5.4 118,4.3 117.6,4.2 115.8,4.3 115.5,3 114.6,1.5 113,1.2 111,1 109.7,1.5"/>
<polygon fill="#a6d3e6" points="95.3,5.5 97.5,5.2 100.4,2.2 103.8,1 104,-1.5 106,-3.2 105.8,-5.8 104.5,-5.9 102.3,-4 100.8,-1.7 98.6,1.8 95.5,4.6"/>
<polygon fill="#a6d3e6" points="105.2,-6.8 106,-5.9 108.3,-6.2 110.6,-6.5 112.5,-6.9 114.5,-7.8 114.4,-8.7 111,-8.3 108,-7.8 106.5,-7.4"/>
<polygon fill="#a6d3e6" points="109.7,1.5 111,1 113,1.2 114.6,1.5 115.5,3 115.8,4.3 117.6,4.2 118,1 117.5,0 116.7,-1.5 116.2,-3.9 114.5,-4 113,-3.2 111.6,-3 110.2,-2.9 110,-1.2 109,0.4"/>
<polygon fill="#a6d3e6" points="119.5,-5.5 120.3,-5.5 120.4,-2.9 121.5,-4.5 122.9,-4.6 122,-3 121.2,-1.8 123.3,-1.1 121.3,-1 121,0.6 124.3,1 125.1,1.5 124,0.3 120.5,0.4 119.8,-0.1 118.8,-3"/>
<polygon fill="#a6d3e6" points="115,-8.2 118,-8.2 120,-8.4 123,-8.3 123,-8.8 119,-9 116,-8.9"/>
<polygon fill="#a6d3e6" points="124,-9.2 127,-8.3 127,-8.6 124.2,-10.1"/>
<polygon fill="#a6d3e6" points="127.5,-3 130,-2.9 130.8,-3.8 128,-3.7"/>
<polygon fill="#a6d3e6" points="131,-1.5 134,-0.8 135.5,-3.3 137.5,-1.5 141,-2.6 141,-9.1 139,-8.1 137.8,-5.3 135,-4.4 133,-4 132,-2.8"/>
<polygon fill="#a6d3e6" points="141,-2.6 144.6,-3.8 147.5,-6 147.7,-8 150.8,-10.3 148,-10.2 146,-8.1 143.5,-9 142.6,-9.3 141,-9.1"/>
<polygon fill="#a6d3e6" points="148.5,-5.5 150,-5.2 151.5,-4.2 152.3,-5.5 150.5,-6.2"/>
<polygon fill="#6ea5cf" points="120.6,18.5 122.2,18.5 122,16.5 121.6,15.3 122,14 124,12.7 123.5,13.8 122.5,14 121,13.6 120.6,14.5 120,16 120.4,17.5"/>
<polygon fill="#6ea5cf" points="122,7 123.5,8 124.5,8.7 126,9.3 126.5,7.5 126,6.3 125.3,5.6 124,6.3 122.2,6.9"/>
<polygon fill="#6ea5cf" points="123,10 124,11.5 125.5,11 124,9.6 122.5,9.5"/>
<!-- Australia / NZ -->
<polygon fill="#323a96" points="114.1,-21.8 116.7,-20.6 120,-19.8 121.5,-18.5 122.3,-17.3 123.5,-16.6 125,-14.6 126.9,-13.8 128.6,-14.8 129.6,-14.9 130.3,-13.3 131,-12.2 132.6,-12.1 132.6,-11.5 133.5,-11.8 135,-12.2 136.5,-11.9 136.9,-12.4 136,-13.3 135.5,-14.8 137,-15.9 139.3,-17.4 140.2,-17.7 141.3,-16.4 141.6,-12.9 142.1,-11 142.5,-10.7 143.2,-12.3 143.8,-14.2 145.3,-14.9 146,-17.6 146.5,-19.1 148.8,-20.4 149.7,-22.3 150.8,-22.6 151.2,-23.8 153.2,-25.9 153.6,-28.6 153.1,-30.5 152.5,-32.5 151.3,-33.9 150.3,-35.7 150,-37.5 148,-37.8 146.3,-39.1 144.9,-37.9 143.5,-38.8 140.6,-38 139.6,-37.4 139.8,-36.5 138.1,-35.7 138.5,-34.8 137.7,-35.1 136.8,-35.2 137.5,-34 137.8,-32.6 136.4,-34.1 135.9,-34.8 135.2,-34.5 134.1,-32.8 131.3,-31.5 129,-31.7 126.1,-32.3 124,-33.4 123.6,-33.9 120,-33.9 117.9,-35.1 116.6,-35 115,-34.3 115.7,-33.3 115.7,-31.6 115.2,-30.6 114.9,-29.5 114.2,-27 113.4,-26.2 113.8,-24.4 113.5,-23.3 113.9,-22"/>
<polygon fill="#323a96" points="144.7,-40.7 148.3,-40.9 148.3,-42.1 147.5,-43.2 146,-43.6 145.2,-42.3"/>
<polygon fill="#323a96" points="172.7,-34.4 174.3,-35.3 175.4,-37 176,-37.6 177.9,-37.6 178.5,-37.7 178,-39 177,-39.3 176.9,-40.2 175.3,-41.6 174.6,-41.3 175,-39.9 173.8,-39.2 174.6,-38.8 174.6,-36.9 173.5,-35.5"/>
<polygon fill="#323a96" points="172.6,-40.5 174.2,-41.3 173.9,-42.3 172.7,-43.5 171.2,-44.5 170.6,-45.9 169.3,-46.6 166.7,-46.2 166.5,-45.2 168.3,-44 170.5,-43 171.6,-41.8"/>
<!-- Africa -->
<polygon fill="#91c1dd" points="-5.9,35.8 -2.2,35.1 -1.8,34.5 -1.7,33.3 -1.2,32.6 -2.6,32.1 -3.7,31.6 -5.2,30 -6.9,29.6 -8.7,28.7 -8.7,27.7 -13.1,27.6 -12.5,28.3 -10.2,29 -9.6,30.6 -9.3,32.5 -6.9,34 -6.2,35.2"/>
<polygon fill="#cccccc" points="-8.7,27.7 -13.1,27.6 -14.5,26.3 -16,24 -17,21.4 -13,21.3 -13,23 -12,23.5 -12,26 -8.7,26"/>
<polygon fill="#6ea5cf" points="-1.8,34.5 -2.2,35.1 1.5,36.6 5,36.9 8.6,36.9 8.4,35 7.6,33.3 9.5,30.3 9.8,29.4 9.9,27 9.5,26.2 10.3,24.4 12,23.5 11.5,23 7.5,20.8 5.8,19.4 4.3,19.2 3.2,19.1 3.2,19.8 1.8,20.6 -1.5,22.8 -4.9,25 -8.7,27.4 -8.7,28.7 -6.9,29.6 -5.2,30 -3.7,31.6 -2.6,32.1 -1.2,32.6 -1.7,33.3"/>
<polygon fill="#4a7bb8" points="8.6,36.9 10.3,37.3 11.1,36.9 10.2,35.2 11,33.3 10,31.5 9.5,30.3 7.6,33.3 8.4,35"/>
<polygon fill="#5387c0" points="9.5,30.3 10,31.5 11,33.3 12.5,32.8 15.2,32.3 15.8,31.4 19,30.3 20,31.8 20,32.8 23,32.6 25,31.6 24.7,30 25,22 25,20 24,20 24,19.5 16,23.4 15,23 14,22.5 12,23.5 10.3,24.4 9.5,26.2 9.9,27 9.8,29.4"/>
<polygon fill="#a6cfe4" points="25,31.6 28,31.1 31,31.6 32.3,31.3 34.2,31.2 34.9,29.5 34.3,27.8 33.8,27.2 35.5,24 35.7,23 36.9,22 31.3,22 25,22 24.7,30"/>
<polygon fill="#c6e4ef" points="-17,21.4 -16.2,20 -16.3,18 -16.3,16.3 -14.3,16.6 -12.2,14.8 -11.4,15.6 -10.7,15.1 -9.7,15.3 -5.5,15.5 -5.3,16.3 -6,20.6 -4.9,25 -8.7,27.4 -8.7,26 -12,26 -12,23.5 -13,23 -13,21.3"/>
<polygon fill="#e24c33" points="-12.2,14.8 -12,14 -11.4,12.4 -10.6,11.9 -9.3,12.4 -8.7,10.9 -7.9,10.3 -6.5,10.6 -5.5,10.4 -5.4,11.8 -4.4,12.5 -4,13.5 -3,13.6 -2,14.6 -0.5,15.1 0.2,14.9 1.2,15.4 3.6,15.6 4.3,16.9 4.3,19.2 3.2,19.1 3.2,19.8 1.8,20.6 -1.5,22.8 -4.9,25 -6,20.6 -5.3,16.3 -5.5,15.5 -9.7,15.3 -10.7,15.1 -11.4,15.6"/>
<polygon fill="#a50026" points="0.2,14.9 1.2,15.4 3.6,15.6 4.3,16.9 4.3,19.2 5.8,19.4 7.5,20.8 11.5,23 12,23.5 14,22.5 15,23 15.5,20.5 15.5,17 13.8,15 13.5,13.8 12.3,13.1 10.8,13.4 9,12.8 7.5,13.1 6.5,13.6 4.5,13.7 3.7,12.6 3.6,11.7 2.4,12.2 2,12.7 0.9,13 1,14 0.4,14"/>
<polygon fill="#fba35d" points="14,13 14.5,12.9 15,11.5 13.8,10 15.5,7.5 18.6,9 19.1,9 21,9.5 22.9,10.9 22.5,12.5 22,13 22.2,13.8 23.8,15.6 24,19.5 16,23.4 15,23 15.5,20.5 15.5,17 13.8,15 13.5,13.8"/>
<polygon fill="#c6e4ef" points="25,22 31.3,22 36.9,22 37.4,18.8 38.4,18 37,17 36.4,14.4 36.1,12.7 35.5,12.5 34.6,10.9 34.1,9.5 33.2,10.7 33.2,12.2 32,12.2 30.8,9.7 27,9.6 25.7,10.4 24,8.8 23.4,9.3 22.9,10.9 22.5,12.5 22,13 22.2,13.8 23.8,15.6 24,19.5 24,20 25,20"/>
<polygon fill="#f9a55c" points="24,8.8 25.7,10.4 27,9.6 30.8,9.7 32,12.2 33.2,12.2 33.2,10.7 34.1,9.5 34,8.6 33,8 34.8,6.7 35.9,4.6 34,4.2 33.5,3.7 31,3.7 30,4.2 28.3,4.3 27.4,5.1 26.4,6.6 25,7.4 24.5,8.2 23.5,8.7"/>
<polygon fill="#f99d59" points="33,8 34,8.6 34.1,9.5 34.6,10.9 35.5,12.5 36.1,12.7 36.4,14.4 37,14.2 38.5,14.4 40,14.3 41.5,13.5 42.4,12.5 41.8,11.5 42.8,11 44,9 48,8 44.9,5 43.7,4.9 42,4 41.5,4 39.5,3.4 38.5,3.6 36.8,4.4 35.9,4.6 34.8,6.7"/>
<polygon fill="#e6f5f0" points="36.4,14.4 37,17 38.4,18 39.3,15.9 40.8,14.7 42.3,12.9 43.1,12.7 42.4,12.5 41.5,13.5 40,14.3 38.5,14.4 37,14.2"/>
<polygon fill="#fee594" points="42.4,12.5 43.1,12.7 43.3,11.9 43,10.9 42.8,11 41.8,11.5"/>
<polygon fill="#fdb366" points="43.3,11.4 44.5,10.4 46,10.7 48.9,11.3 51.1,11.9 51.2,10.4 50.5,9 48.5,5.3 46,2 43.5,0 41.6,-1.7 41,-0.9 41,2.8 42,4 43.7,4.9 44.9,5 48,8 44,9 42.8,11"/>
<polygon fill="#c1e3ef" points="41.6,-1.7 41,-0.9 41,2.8 42,4 41.5,4 39.5,3.4 38.5,3.6 36.8,4.4 35.9,4.6 34,4.2 35,1.5 34,0.5 34,-1 37.7,-3.1 39.2,-4.7 40.1,-2.8"/>
<polygon fill="#fffbbd" points="-17.5,14.7 -16.8,13.8 -16.7,12.4 -15,12.6 -13.7,12.7 -12.2,12.4 -11.4,12.4 -12,14 -12.2,14.8 -14.3,16.6 -16.3,16.3 -16.8,15.6"/>
<polygon fill="#f47a48" points="-16.7,12.4 -15,12.6 -13.7,12.7 -13.7,11.8 -15,10.9 -16.2,11.5"/>
<polygon fill="#f57f4b" points="-13.7,12.7 -12.2,12.4 -11.4,12.4 -10.6,11.9 -9.3,12.4 -8.7,10.9 -7.9,10.3 -8.2,9.3 -7.8,8.2 -8.4,7.7 -9.4,7.4 -10.3,8.4 -10.6,9 -11.2,10 -12.4,9.9 -13.2,9.5 -14.6,10.3 -15,10.9 -13.7,11.8"/>
<polygon fill="#ef6a42" points="-13.2,9.5 -12.4,9.9 -11.2,10 -10.6,9 -10.3,8.4 -11.4,6.9 -12.9,7.7 -13.3,8.5"/>
<polygon fill="#f47a48" points="-11.4,6.9 -10.3,8.4 -9.4,7.4 -8.4,7.7 -8.4,6.3 -7.5,5.3 -7.5,4.4 -9.9,5.6"/>
<polygon fill="#fee8a0" points="-7.5,4.4 -5,5.2 -3.2,5.1 -3.2,6.2 -2.5,8.2 -2.9,9.6 -4.3,9.7 -5.5,10.4 -6.5,10.6 -7.9,10.3 -8.2,9.3 -7.8,8.2 -8.4,7.7 -8.4,6.3 -7.5,5.3"/>
<polygon fill="#e3f3f0" points="-3.2,5.1 -1,5 1.2,6.1 0.5,7.4 0.4,8.6 0,11 -0.5,11.1 -2.9,11 -2.9,9.6 -2.5,8.2 -3.2,6.2"/>
<polygon fill="#fba35d" points="-5.5,10.4 -4.3,9.7 -2.9,9.6 -2.9,11 -0.5,11.1 0,11 0.9,11 1.1,11.8 2.4,12.2 2,12.7 0.9,13 1,14 0.4,14 0.2,14.9 -0.5,15.1 -2,14.6 -3,13.6 -4,13.5 -4.4,12.5 -5.4,11.8"/>
<polygon fill="#fee594" points="1.2,6.1 1.6,6.2 1.5,9.5 0.9,11 0,11 0.4,8.6 0.5,7.4"/>
<polygon fill="#fba35d" points="1.6,6.2 2.7,6.3 2.7,8 2.8,9.8 3.6,11.7 2.4,12.2 1.1,11.8 0.9,11 1.5,9.5"/>
<polygon fill="#f99a58" points="2.7,6.3 4.4,6.4 5.5,5 7,4.4 8.5,4.5 8.8,5.5 10,6.9 11,6.5 12,7.3 13,9.5 14.2,11.3 14,13 13.5,13.8 12.3,13.1 10.8,13.4 9,12.8 7.5,13.1 6.5,13.6 4.5,13.7 3.7,12.6 3.6,11.7 2.8,9.8 2.7,8"/>
<polygon fill="#f4f9d4" points="8.5,4.5 9.5,3.8 9.8,2.3 11.3,2.3 13.2,2.3 16,2.2 15,3.9 14.4,4.9 14.5,6.2 15.5,7.5 13.8,10 15,11.5 14.5,12.9 14,13 14.2,11.3 13,9.5 12,7.3 11,6.5 10,6.9 8.8,5.5"/>
<polygon fill="#fedc92" points="14.4,4.9 14.5,6.2 15.5,7.5 18.6,9 19.1,9 21,9.5 22.9,10.9 23.4,9.3 23.5,8.7 24.5,8.2 25,7.4 26.4,6.6 27.4,5.1 25,5 22.8,4.7 20.6,4.4 19,3.6 18.5,3.5 16.5,3.6 16,2.2 15,3.9"/>
<polygon fill="#91c1dd" points="9.8,2.3 9.5,1 9,-0.6 9.6,-1.5 11.2,-3.9 11.7,-3.2 13.8,-2.1 14.5,-0.5 14,1.2 14,2.2 13.2,2.3 11.3,2.3"/>
<polygon fill="#a6d3e6" points="11.2,-3.9 12,-5 13,-4.8 14.5,-4.9 15.9,-3.8 16,-2.5 17.7,-0.5 17.9,1.2 18.5,3.5 16.5,3.6 16,2.2 14,2.2 14,1.2 14.5,-0.5 13.8,-2.1 11.7,-3.2"/>
<polygon fill="#fec98a" points="12.2,-5.8 13,-4.8 14.5,-4.9 15.9,-3.8 16,-2.5 17.7,-0.5 17.9,1.2 18.5,3.5 19,3.6 20.6,4.4 22.8,4.7 25,5 27.4,5.1 28.3,4.3 30,4.2 30.8,3.5 29.9,1.6 29.6,-0.6 29,-2.8 29.6,-4.5 29.4,-5.9 30.7,-8.3 28.6,-9 28.4,-11.8 29.6,-12.2 29.6,-13.3 28.5,-13 27.4,-12.1 26,-11.9 25.4,-11.3 24,-11 23.5,-10.8 22,-9.7 21.7,-7.3 19.4,-8 17.5,-8 16.9,-7.2 16.3,-5.9 13,-5.9 12.2,-6"/>
<polygon fill="#fed38a" points="29.6,-0.6 30.5,-1 31.8,-1 34,-1 34,0.5 35,1.5 34,4.2 33.5,3.7 31,3.7 30.8,3.5 29.9,1.6"/>
<polygon fill="#fdb366" points="29,-1.3 30.5,-1 30.8,-3.4 29.6,-4.5 29,-2.8"/>
<polygon fill="#ffffc0" points="30.5,-1 31.8,-1 34,-1 37.7,-3.1 39.2,-4.7 38.8,-6.5 39.4,-8 39.7,-10.2 40.4,-10.5 37.5,-11.6 35,-11.5 34.5,-9.5 33,-9.4 31,-8.5 30.7,-8.3 29.4,-5.9 29.6,-4.5 30.8,-3.4"/>
<polygon fill="#fec98a" points="12.2,-6 13,-5.9 16.3,-5.9 16.9,-7.2 17.5,-8 19.4,-8 21.7,-7.3 22,-9.7 23.5,-10.8 24,-11 24,-13 22,-13 22,-16.2 23.2,-17.6 21,-18 19,-17.8 14.2,-17.4 13.5,-17 11.7,-17.3 12,-15.6 12.5,-13.5 13.7,-11.8 13.2,-9.4 12.5,-7.3"/>
<polygon fill="#fec98a" points="22,-13 24,-13 24,-11 25.4,-11.3 26,-11.9 27.4,-12.1 28.5,-13 29.6,-13.3 29.6,-12.2 28.4,-11.8 28.6,-9 30.7,-8.3 31,-8.5 33,-9.4 33.5,-10.5 33,-12 33.2,-14 30.2,-14.8 30.3,-15.6 28.7,-16.5 27,-17.9 25.3,-17.8 23.2,-17.6 22,-16.2"/>
<polygon fill="#f46d43" points="33,-9.4 34.5,-9.5 35,-11.5 34.6,-12.5 34.6,-14 35.3,-14.3 35.8,-16 35.1,-17 34.3,-16.2 34.4,-14.4 33.2,-14 33,-12 33.5,-10.5"/>
<polygon fill="#f47446" points="35,-11.5 37.5,-11.6 40.4,-10.5 40.6,-14.5 40.2,-16 37,-17.7 35.2,-19.8 35.5,-22 35.4,-24 33,-25.3 32.8,-26.8 32,-26.3 31.9,-24.4 31.2,-22.3 32.5,-21 32.9,-18.7 32.8,-16.7 30.3,-15.6 30.2,-14.8 33.2,-14 34.4,-14.4 34.3,-16.2 35.1,-17 35.8,-16 35.3,-14.3 34.6,-14 34.6,-12.5"/>
<polygon fill="#fed48e" points="25.3,-17.8 27,-17.9 28.7,-16.5 30.3,-15.6 32.8,-16.7 32.9,-18.7 32.5,-21 31.2,-22.3 29.4,-22.2 28,-21.5 27.7,-20.5 26,-19.3"/>
<polygon fill="#91c1dd" points="11.7,-17.3 13.5,-17 14.2,-17.4 19,-17.8 21,-18 23.2,-17.6 25.3,-17.8 24.2,-17.5 21,-18.3 21,-22 20,-22 20,-24.8 20,-28.4 18.5,-28.8 17,-28.3 16.5,-28.6 15.3,-27.3 14.5,-24 14.5,-22.5 13,-20.6 11.8,-18"/>
<polygon fill="#6ea5cf" points="20,-22 21,-22 21,-18.3 23.2,-17.6 25.3,-17.8 26,-19.3 27.7,-20.5 28,-21.5 29.4,-22.2 27,-23.7 25.6,-25.5 23.3,-25.4 22,-26.3 20.8,-26.8 20,-24.8"/>
<polygon fill="#91c1dd" points="16.5,-28.6 17,-28.3 18.5,-28.8 20,-28.4 20,-24.8 20.8,-26.8 22,-26.3 23.3,-25.4 25.6,-25.5 27,-23.7 29.4,-22.2 31.2,-22.3 31.9,-24.4 32,-26.3 32.8,-26.8 32.4,-28.6 31.3,-29.5 30,-31.3 28,-32.8 25.8,-33.7 23,-33.9 20,-34.8 18.4,-34.1 18.2,-32.5 17.3,-30.3"/>
<polygon fill="#91c1dd" points="27,-30 28,-28.6 29.4,-29.2 29,-30.5 28,-30.6"/>
<polygon fill="#fffdc0" points="49.3,-12 50.4,-15.3 49.8,-17 49.4,-18.5 48.5,-20.5 47.6,-23.5 47,-25 45.2,-25.5 44,-24.6 43.3,-22.2 44.4,-20 44,-17.3 44.4,-16.2 46.3,-15.7 47.8,-14.6 48.8,-13.1"/>
</g>

<!-- circles -->
<g fill="url(#cb)" fill-opacity="0.36">
<circle cx="23" cy="692.5" r="10"/><circle cx="32" cy="692.5" r="10"/><circle cx="38" cy="692.5" r="10"/><circle cx="41" cy="692.5" r="10"/><circle cx="45" cy="692.5" r="10"/><circle cx="48" cy="692.5" r="10"/><circle cx="50" cy="692.5" r="10"/><circle cx="52" cy="692.5" r="10"/><circle cx="55" cy="692.5" r="10"/><circle cx="57" cy="692.5" r="10"/><circle cx="60" cy="692.5" r="10"/><circle cx="66" cy="692.5" r="10"/><circle cx="77" cy="692.5" r="10"/><circle cx="84" cy="692.5" r="10"/><circle cx="88" cy="692.5" r="10"/><circle cx="95" cy="692.5" r="10"/><circle cx="97" cy="692.5" r="10"/><circle cx="102" cy="692.5" r="10"/><circle cx="106" cy="692.5" r="10"/><circle cx="110" cy="692.5" r="10"/><circle cx="115" cy="692.5" r="10"/><circle cx="120" cy="692.5" r="10"/><circle cx="124" cy="692.5" r="10"/><circle cx="130" cy="692.5" r="10"/><circle cx="133" cy="692.5" r="10"/><circle cx="142" cy="692.5" r="10"/><circle cx="151" cy="692.5" r="10"/><circle cx="157" cy="692.5" r="10"/>
<circle cx="177" cy="692.5" r="10"/><circle cx="186" cy="692.5" r="10"/><circle cx="197" cy="692.5" r="10"/><circle cx="205" cy="692.5" r="10"/><circle cx="209" cy="692.5" r="10"/><circle cx="218" cy="692.5" r="10"/><circle cx="224" cy="692.5" r="10"/>
<circle cx="247" cy="692.5" r="10"/><circle cx="256" cy="692.5" r="10"/><circle cx="264" cy="692.5" r="10"/><circle cx="268" cy="692.5" r="10"/><circle cx="273" cy="692.5" r="10"/><circle cx="282" cy="692.5" r="10"/><circle cx="291" cy="692.5" r="10"/>
<circle cx="314" cy="692.5" r="10"/><circle cx="322" cy="692.5" r="10"/><circle cx="331" cy="692.5" r="10"/><circle cx="340" cy="692.5" r="10"/><circle cx="349" cy="692.5" r="10"/><circle cx="358" cy="692.5" r="10"/><circle cx="367" cy="692.5" r="10"/><circle cx="376" cy="692.5" r="10"/><circle cx="383" cy="692.5" r="10"/>
<circle cx="434" cy="692.5" r="10"/><circle cx="443" cy="692.5" r="10"/><circle cx="452" cy="692.5" r="10"/><circle cx="461" cy="692.5" r="10"/><circle cx="470" cy="692.5" r="10"/><circle cx="479" cy="692.5" r="10"/><circle cx="490" cy="692.5" r="10"/><circle cx="501" cy="692.5" r="10"/><circle cx="514" cy="692.5" r="10"/>
<circle cx="537" cy="692.5" r="10"/><circle cx="548" cy="692.5" r="10"/><circle cx="559" cy="692.5" r="10"/><circle cx="570" cy="692.5" r="10"/><circle cx="579" cy="692.5" r="10"/>
<circle cx="608" cy="692.5" r="10"/><circle cx="619" cy="692.5" r="10"/><circle cx="631" cy="692.5" r="10"/><circle cx="639" cy="692.5" r="10"/>
<circle cx="684" cy="692.5" r="10"/><circle cx="697" cy="692.5" r="10"/><circle cx="708" cy="692.5" r="10"/><circle cx="728" cy="692.5" r="10"/>
<circle cx="771" cy="692.5" r="10"/><circle cx="787" cy="692.5" r="10"/><circle cx="799" cy="692.5" r="10"/><circle cx="817" cy="692.5" r="10"/><circle cx="835" cy="692.5" r="10"/><circle cx="848" cy="692.5" r="10"/><circle cx="884" cy="692.5" r="10"/>
<circle cx="940" cy="692.5" r="10"/><circle cx="955" cy="692.5" r="10"/><circle cx="970" cy="692.5" r="10"/>
<circle cx="1006" cy="692.5" r="10"/><circle cx="1021" cy="692.5" r="10"/><circle cx="1037" cy="692.5" r="10"/><circle cx="1052" cy="692.5" r="10"/><circle cx="1065" cy="692.5" r="10"/><circle cx="1078" cy="692.5" r="10"/>
<circle cx="1113" cy="692.5" r="10"/><circle cx="1123" cy="692.5" r="10"/><circle cx="1134" cy="692.5" r="10"/><circle cx="1149" cy="692.5" r="10"/><circle cx="1162" cy="692.5" r="10"/>
<circle cx="1190" cy="692.5" r="10"/><circle cx="1231" cy="692.5" r="10"/>
<circle cx="1307" cy="692.5" r="10"/><circle cx="1322" cy="692.5" r="10"/><circle cx="1356" cy="692.5" r="10"/>
<circle cx="1419" cy="692.5" r="10"/><circle cx="1430" cy="692.5" r="10"/><circle cx="1440" cy="692.5" r="10"/><circle cx="1445" cy="692.5" r="10"/><circle cx="1450" cy="692.5" r="10"/><circle cx="1460" cy="692.5" r="10"/><circle cx="1470" cy="692.5" r="10"/>
<circle cx="1617" cy="692.5" r="10"/><circle cx="1876" cy="692.5" r="10"/>
</g>
<circle cx="66" cy="692.5" r="9.5" fill="none" stroke="#333" stroke-width="1.6"/>

<!-- colorbar -->
<rect x="28" y="707" width="1842" height="18" fill="url(#cb)"/>
<line x1="28" y1="730" x2="1870" y2="730" stroke="#444" stroke-width="1.5"/>
<g stroke="#555" stroke-width="1.2">
<line x1="263.4" y1="730" x2="263.4" y2="734"/><line x1="546.7" y1="730" x2="546.7" y2="734"/><line x1="830" y1="730" x2="830" y2="734"/><line x1="1113.3" y1="730" x2="1113.3" y2="734"/><line x1="1396.6" y1="730" x2="1396.6" y2="734"/><line x1="1680" y1="730" x2="1680" y2="734"/>
</g>
<g class="t" font-size="14.5" fill="#333" text-anchor="middle">
<text x="264" y="749.5">5%</text><text x="547" y="749.5">10%</text><text x="830" y="749.5">15%</text><text x="1113" y="749.5">20%</text><text x="1397" y="749.5">25%</text><text x="1680" y="749.5">30%</text>
</g>
<polygon points="21,736.5 31,736.5 26,725.5" fill="#2ca25f"/>
<rect x="9" y="736" width="35" height="18" rx="3" fill="#2ca25f"/>
<text x="26.5" y="750" class="t" font-size="13.5" fill="#fff" text-anchor="middle">1%</text>
<polygon points="1864,736.5 1874,736.5 1869,725.5" fill="#2ca25f"/>
<rect x="1852" y="736" width="34" height="18" rx="3" fill="#2ca25f"/>
<text x="1869" y="750" class="t" font-size="13.5" fill="#fff" text-anchor="middle">33%</text>

<!-- time slider panel -->
<rect x="-5" y="759.5" width="1908" height="43.5" rx="4" fill="#f8f8f8" stroke="#d2d2d2"/>
<rect x="4.5" y="772.5" width="24" height="23" rx="3" fill="#ececec" stroke="#c8c8c8"/>
<polygon points="13,779 13,789 20,784" fill="#888"/>
<rect x="65.5" y="786" width="1806" height="7.5" rx="3.75" fill="#fff" stroke="#c8c8c8"/>
<polygon points="56,780 67,780 61.5,790.5" fill="#2ca25f"/>
<rect x="41" y="765.5" width="43" height="15.5" rx="3" fill="#2ca25f"/>
<text x="62.5" y="778.5" class="t" font-size="13" fill="#fff" text-anchor="middle">1990</text>

<!-- footer -->
<text x="-2" y="833" class="l" font-size="15" fill="#43903c" textLength="307" lengthAdjust="spacingAndGlyphs">Institute for Health Metrics and Evaluation</text>
<text x="841" y="833" class="l" font-size="15" fill="#444" textLength="222" lengthAdjust="spacingAndGlyphs">GBD 2013, released 12/2014</text>
<text x="1656" y="833" class="l" font-size="15" fill="#444" textLength="58" lengthAdjust="spacingAndGlyphs">© 2015</text>
<text x="1720" y="833" class="l" font-size="15" fill="#43903c" textLength="182" lengthAdjust="spacingAndGlyphs">University of Washington</text>
</svg>
</body></html>
